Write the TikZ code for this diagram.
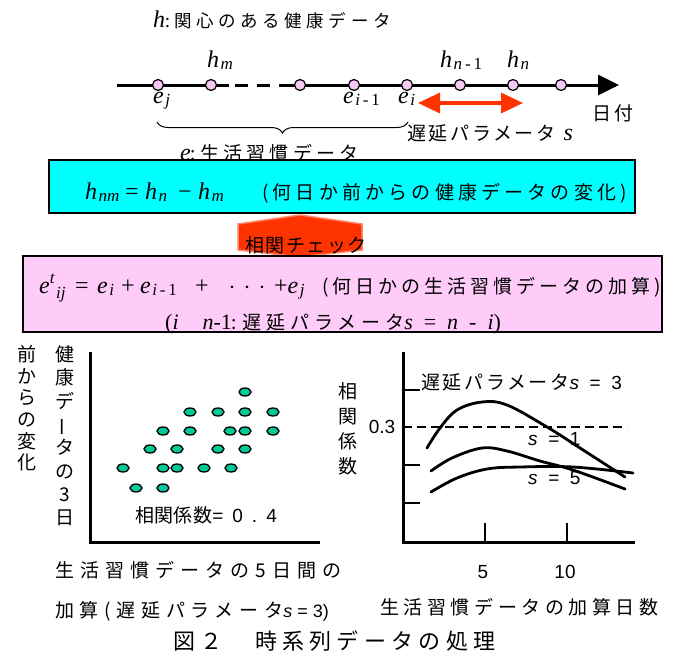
\documentclass[tikz,border=0pt]{standalone}
\usepackage{fontspec}
\usetikzlibrary{arrows.meta,decorations.pathreplacing,shapes.geometric}
\newfontfamily\jp{Noto Sans CJK JP}
\newfontfamily\tms{Liberation Serif}
\newfontfamily\ars{Liberation Sans}
\newcommand\J[3]{{\fontsize{#1}{#1}\selectfont\jp\addfontfeature{LetterSpace=#2}#3}}
\newcommand\V[1]{{\tms\itshape #1}}
\newcommand\Sb[2][2pt]{\hspace{1.5pt}\raisebox{-#1}{\fontsize{17}{17}\selectfont\tms\itshape #2}}
\newcommand\Ar[2]{{\fontsize{#1}{#1}\selectfont\ars #2}}
\newcommand\Bx[2]{\makebox[#1][l]{#2}}
\definecolor{tpink}{HTML}{F8C8F4}
\definecolor{bpink}{HTML}{FFCCFA}
\definecolor{rred}{HTML}{FF3300}
\definecolor{teal2}{HTML}{00C896}
\definecolor{cyanbox}{HTML}{00FFFF}
\begin{document}
\begin{tikzpicture}[x=1pt,y=-1pt,
  tdot/.style={circle,draw=black,fill=tpink,line width=1.2pt,minimum size=11pt,inner sep=0pt},
  sdot/.style={ellipse,draw=black,fill=teal2,line width=1.3pt,minimum width=12pt,minimum height=8pt,inner sep=0pt},
  axisline/.style={line width=3pt},
  curve/.style={line width=2.8pt,line cap=round},
  tick/.style={line width=2.2pt},
  lbl/.style={inner sep=0pt,anchor=base west},
  vcol/.style={inner sep=0pt,anchor=north,align=center,font=\fontsize{19}{21.6}\selectfont\jp}]
\useasboundingbox (0,0) rectangle (680,656);
% ---------- timeline ----------
\node[lbl] (title) at (153,27) {\fontsize{24}{24}\selectfont\V{h}\J{17.5}{26}{:関心のある健康データ}};
\coordinate (tl0) at (117,85);
\coordinate (d1) at (229,85);
\coordinate (d2) at (235,85);
\coordinate (d3) at (291,85);
\coordinate (tlend) at (619,85);
\draw[axisline] (tl0) -- (d1);
\draw[axisline,dash pattern=on 13pt off 9pt] (d2) -- (d3);
\draw[axisline,-{Triangle[length=21pt,width=20pt]}] (d3) -- (tlend);
\foreach \i/\x in {1/158,2/211,3/300,4/354,5/407,6/460,7/513,8/561}
  \node[tdot] (c\i) at (\x,85) {};
\node[lbl] (hm) at (207,67) {\fontsize{24}{24}\selectfont\V{h}\Sb{m}};
\node[lbl] (hn1) at (440,67) {\fontsize{24}{24}\selectfont\V{h}\Sb{n\upshape\,-\,1}};
\node[lbl] (hn) at (507,67) {\fontsize{24}{24}\selectfont\V{h}\Sb{n}};
\node[lbl] (ej) at (153,103) {\fontsize{24}{24}\selectfont\V{e}\Sb{j}};
\node[lbl] (ei1) at (343,103) {\fontsize{24}{24}\selectfont\V{e}\Sb{i\upshape\,-\,1}};
\node[lbl] (ei) at (398,103) {\fontsize{24}{24}\selectfont\V{e}\Sb{i}};
\coordinate (ra1) at (418,103);
\coordinate (ra2) at (523,103);
\draw[rred,line width=3.5pt,{Triangle[length=22pt,width=20pt]}-{Triangle[length=22pt,width=20pt]}] (ra1) -- (ra2);
\node[lbl] (date) at (592,120) {\J{19}{20}{日付}};
\coordinate (b1) at (157,122);
\coordinate (b2) at (408,122);
\draw[line width=1pt,decorate,decoration={brace,mirror,amplitude=11pt}] (b1) -- (b2);
\node[lbl] (delay) at (407,140) {\J{19}{14}{遅延パラメータ}\hspace{8pt}\fontsize{24}{24}\selectfont\V{s}};
\node[lbl] (elabel) at (180,160) {\fontsize{24}{24}\selectfont\V{e}\J{19}{22}{:生活習慣データ}};
% ---------- cyan box ----------
\node[draw=black,fill=cyanbox,line width=1.6pt,minimum width=586pt,minimum height=53pt,inner sep=0pt] (cbox) at (342,186.5) {};
\node[lbl] (hnm) at (85,199) {\fontsize{24}{24}\selectfont\Bx{40pt}{\V{h}\Sb{nm}}\Bx{20pt}{\tms =}\Bx{33pt}{\V{h}\Sb{n}}\Bx{20pt}{\tms −}\V{h}\Sb{m}};
\node[lbl] (ctext) at (262,199) {\J{19}{22}{(何日か前からの健康データの変化)}};
% ---------- red check arrow ----------
\filldraw[fill=rred,draw=rred!60,line width=1.5pt] (238,224) -- (300,215) -- (362,224) -- (362,250) -- (300,257) -- (238,250) -- cycle;
\node[lbl] (check) at (245,252) {\J{19}{8}{相関チェック}};
% ---------- pink box ----------
\node[draw=black,fill=bpink,line width=1.6pt,minimum width=639pt,minimum height=76pt,inner sep=0pt] (pbox) at (342.5,294) {};
\node[lbl] (eij) at (39,293) {\fontsize{24}{24}\selectfont
  \Bx{36pt}{\V{e}\raisebox{10pt}{\fontsize{17}{17}\selectfont\V{t}}\Sb[5pt]{ij}}%
  \Bx{22pt}{\tms =}%
  \Bx{24pt}{\V{e}\Sb{i}}%
  \Bx{19pt}{\tms +}%
  \Bx{55pt}{\V{e}\Sb{i\upshape\,-\,1}}%
  \Bx{33pt}{\tms +}%
  \Bx{46pt}{\jp\fontsize{16}{16}\selectfont ･\hspace{7pt}･\hspace{7pt}･}%
  \tms +\V{e}\Sb{j}};
\node[lbl] (ptext) at (322,293) {\J{19}{21}{(何日かの生活習慣データの加算)}};
\node[lbl] (pline2) at (165,329) {\fontsize{22}{22}\selectfont\tms(\V{i}\hspace{24pt}\V{n}-1\J{19}{26}{:遅延パラメータ}\V{s}\ \ =\ \ \V{n}\ \ -\ \ \V{i})};
% ---------- left chart ----------
\coordinate (la) at (90,352);
\coordinate (lo) at (90,542);
\coordinate (lb) at (320,542);
\draw[axisline] (la) -- (lo) -- (lb);
\node[vcol] (yl1) at (27,345.5) {前\\か\\ら\\の\\変\\化};
\node[vcol,font=\fontsize{19}{23.3}\selectfont\jp] (yl2) at (65,345.5) {健\\康\\デ\\\rotatebox[origin=c]{90}{ー}\\タ\\の\\3\\日};
\foreach \n/\x/\y in {1/245/392,2/190/412,3/218/412,4/245/412,5/273/412,6/163/431,7/190/431,8/230/431,9/245/431,10/273/431,11/150/449,12/177/449,13/218/449,14/245/449,15/123/468,16/163/468,17/177/468,18/204/468,19/231/468,20/136/488,21/163/488}
  \node[sdot] (s\n) at (\x,\y) {};
\node[lbl] (corr) at (135,522) {\J{19}{2}{相関係数}\Ar{19}{=\hspace{9pt}0\hspace{9pt}.\hspace{9pt}4}};
\node[lbl] (xl1) at (55,577) {\J{19}{32}{生活習慣データの5日間の}};
\node[lbl] (xl2) at (55,617) {\J{19}{30}{加算(遅延パラメータ}\Ar{18}{\itshape s\upshape\ = 3)}};
\node[lbl] (cap) at (173,649) {\J{22}{24}{図２　時系列データの処理}};
% ---------- right chart ----------
\coordinate (ra) at (403,352);
\coordinate (ro) at (403,542);
\coordinate (rb) at (635,542);
\draw[axisline] (ra) -- (ro) -- (rb);
\foreach \y/\n in {390/1,465/2,503/3} {
  \coordinate (yt\n) at (403,\y); \coordinate (ye\n) at (420,\y);
  \draw[tick] (yt\n) -- (ye\n);}
\foreach \x/\n in {485/1,567/2} {
  \coordinate (xt\n) at (\x,542); \coordinate (xe\n) at (\x,523);
  \draw[tick] (xt\n) -- (xe\n);}
\coordinate (dl1) at (403,427);
\coordinate (dl2) at (627,427);
\draw[line width=1.5pt,dash pattern=on 9pt off 5pt] (dl1) -- (dl2);
\draw[curve] plot[smooth,tension=0.6] coordinates {(427,448) (440,428) (457,410) (482,402) (507,405) (547,427) (580,448) (625,477)};
\draw[curve] plot[smooth,tension=0.6] coordinates {(431,471) (452,458) (482,448) (507,451) (540,461) (573,470) (625,489)};
\draw[curve] plot[smooth,tension=0.6] coordinates {(431,492) (457,478) (487,469) (520,467) (573,467) (633,473)};
\node[lbl] (s3) at (421,389) {\J{19}{14}{遅延パラメータ}\Ar{19}{\itshape s\upshape\ \ =\ \ 3}};
\node[lbl] (s1) at (528,445) {\Ar{19}{\itshape s\upshape\ \ =\ \ 1}};
\node[lbl] (s5) at (528,484) {\Ar{19}{\itshape s\upshape\ \ =\ \ 5}};
\node (v03) at (382,427) {\Ar{19}{0.3}};
\node (x5) at (483,572) {\Ar{19}{5}};
\node (x10) at (565,572) {\Ar{19}{10}};
\node[vcol,font=\fontsize{19}{25}\selectfont\jp] (yr) at (348,382.5) {相\\関\\係\\数};
\node[lbl] (xr) at (380,614) {\J{19}{24}{生活習慣データの加算日数}};
\end{tikzpicture}
\end{document}
